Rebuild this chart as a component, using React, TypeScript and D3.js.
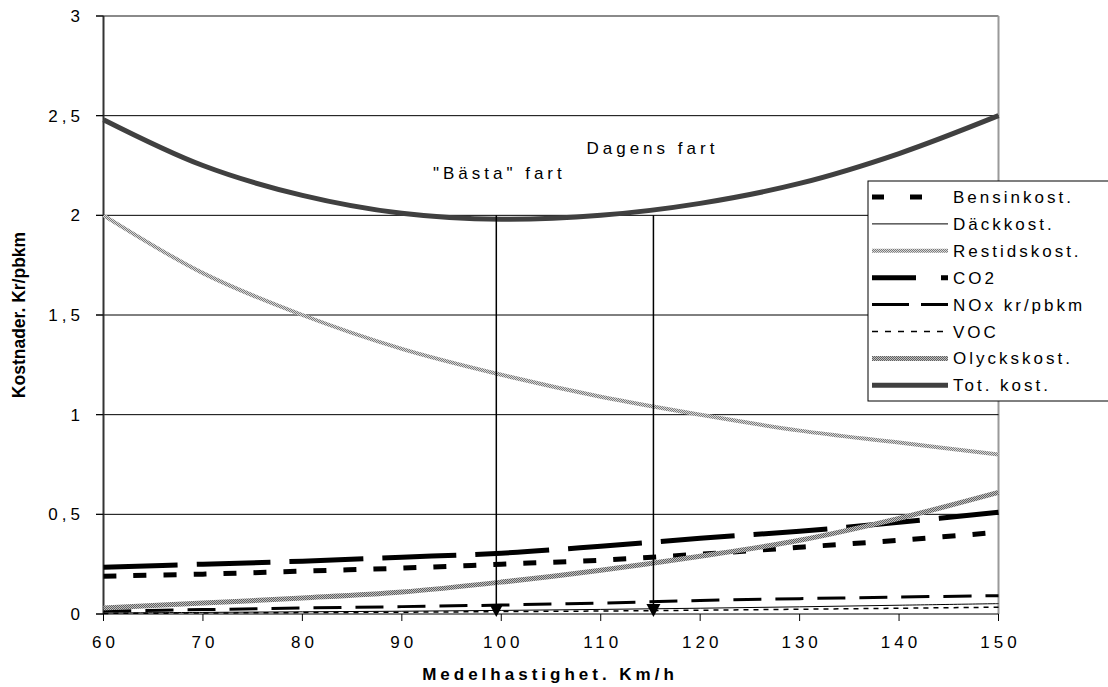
import React from "react";
import * as d3 from "d3";

const speeds = [60, 70, 80, 90, 100, 110, 120, 130, 140, 150];
const bensinkost = [0.19, 0.2, 0.215, 0.23, 0.25, 0.27, 0.3, 0.335, 0.37, 0.41];
const dackkost = [0.005, 0.008, 0.011, 0.014, 0.018, 0.023, 0.029, 0.036, 0.044, 0.052];
const restidskost = [2.0, 1.71, 1.5, 1.33, 1.2, 1.09, 1.0, 0.92, 0.86, 0.8];
const co2 = [0.235, 0.25, 0.265, 0.285, 0.305, 0.34, 0.38, 0.415, 0.46, 0.51];
const nox = [0.015, 0.022, 0.03, 0.037, 0.045, 0.055, 0.068, 0.077, 0.085, 0.092];
const voc = [0.003, 0.005, 0.007, 0.009, 0.012, 0.015, 0.019, 0.024, 0.029, 0.034];
const olyckskost = [0.03, 0.055, 0.08, 0.11, 0.16, 0.22, 0.29, 0.37, 0.48, 0.61];
const totKost = [2.48, 2.25, 2.1, 2.01, 1.98, 2.0, 2.06, 2.16, 2.31, 2.5];

const yTicks = [0, 0.5, 1, 1.5, 2, 2.5, 3];
const yTickLabels = ["0", "0,5", "1", "1,5", "2", "2,5", "3"];
const xTicks = [60, 70, 80, 90, 100, 110, 120, 130, 140, 150];

const arrowSpeeds = [99.5, 115.3];
const arrowTop = 2.0;
const arrowLabels = ['"Bästa" fart', "Dagens fart"];

const FONT = "Arial, 'Liberation Sans', Helvetica, sans-serif";

type SeriesStyle = {
  name: string;
  values: number[];
  stroke: string;
  width: number;
  dash?: string;
  legendDash?: string;
};

const series: SeriesStyle[] = [
  { name: "Bensinkost.", values: bensinkost, stroke: "#000", width: 5, dash: "13,17", legendDash: "12,26" },
  { name: "Däckkost.", values: dackkost, stroke: "#000", width: 1 },
  { name: "Restidskost.", values: restidskost, stroke: "url(#patLight)", width: 4 },
  { name: "CO2", values: co2, stroke: "#000", width: 5, dash: "74,19", legendDash: "44,25" },
  { name: "NOx kr/pbkm", values: nox, stroke: "#000", width: 3, dash: "28,14", legendDash: "37,12" },
  { name: "VOC", values: voc, stroke: "#000", width: 1.5, dash: "5,5", legendDash: "6,7" },
  { name: "Olyckskost.", values: olyckskost, stroke: "url(#patDark)", width: 5 },
  { name: "Tot. kost.", values: totKost, stroke: "#404040", width: 5 },
];

export default function App() {
  const W = 1108;
  const H = 687;
  const x = d3.scaleLinear().domain([60, 150]).range([103.5, 998.5]);
  const y = d3.scaleLinear().domain([0, 3]).range([614, 16]);

  const line = (vals: number[]) =>
    d3
      .line<number>()
      .x((_, i) => x(speeds[i]))
      .y((v) => y(v))
      .curve(d3.curveCatmullRom.alpha(0.5))(vals) || "";

  const legX = 868;
  const legY = 181;
  const rowH = 26.9;

  return (
    <svg
      width={W}
      height={H}
      style={{ position: "absolute", left: 0, top: 0, background: "#fff" }}
      fontFamily={FONT}
    >
      <defs>
        <pattern id="patLight" width="2" height="2" patternUnits="userSpaceOnUse">
          <rect width="2" height="2" fill="#d8d8d8" />
          <rect width="1" height="1" fill="#7a7a7a" />
          <rect x="1" y="1" width="1" height="1" fill="#7a7a7a" />
        </pattern>
        <pattern id="patDark" width="2" height="2" patternUnits="userSpaceOnUse">
          <rect width="2" height="2" fill="#c0c0c0" />
          <rect width="1" height="1" fill="#606060" />
          <rect x="1" y="1" width="1" height="1" fill="#606060" />
        </pattern>
      </defs>
      <rect width={W} height={H} fill="#fff" />

      {/* plot border top/right */}
      <line x1={96} x2={x(150)} y1={y(3)} y2={y(3)} stroke="#8a8a8a" strokeWidth={2} />
      <line x1={x(150)} x2={x(150)} y1={y(3)} y2={y(0)} stroke="#9a9a9a" strokeWidth={2} />

      {/* gridlines */}
      {yTicks.filter((t) => t > 0 && t < 3).map((t) => (
        <line key={t} x1={96} x2={x(150)} y1={y(t)} y2={y(t)} stroke="#000" strokeWidth={1} />
      ))}

      {/* x axis */}
      <line x1={96} x2={x(150)} y1={y(0)} y2={y(0)} stroke="#000" strokeWidth={1} />
      {xTicks.map((t) => (
        <line key={t} x1={x(t)} x2={x(t)} y1={y(0)} y2={y(0) + 7} stroke="#000" strokeWidth={1} />
      ))}
      {xTicks.map((t) => (
        <text
          key={t}
          x={x(t) + 2}
          y={648}
          textAnchor="middle"
          fontSize={17}
          letterSpacing={4}
          fill="#000"
        >
          {String(t)}
        </text>
      ))}

      {/* y axis */}
      <line x1={x(60)} x2={x(60)} y1={y(3)} y2={y(0)} stroke="#333" strokeWidth={2} />
      {yTicks.map((t, i) => (
        <g key={t}>
          <line x1={96} x2={x(60)} y1={y(t)} y2={y(t)} stroke="#000" strokeWidth={1} />
          <text
            x={84}
            y={y(t) + 6}
            textAnchor="end"
            fontSize={17}
            letterSpacing={4}
            fill="#000"
          >
            {yTickLabels[i]}
          </text>
        </g>
      ))}

      {/* series */}
      {series.map((s) => (
        <path
          key={s.name}
          d={line(s.values)}
          fill="none"
          stroke={s.stroke}
          strokeWidth={s.width}
          strokeDasharray={s.dash}
          strokeLinejoin="round"
        />
      ))}

      {/* arrows */}
      {arrowSpeeds.map((sp, i) => (
        <g key={sp}>
          <line x1={x(sp)} x2={x(sp)} y1={y(arrowTop)} y2={y(0) - 8} stroke="#000" strokeWidth={1.5} />
          <path
            d={`M${x(sp) - 7},${y(0) - 10} L${x(sp) + 7},${y(0) - 10} L${x(sp)},${y(0) + 3} Z`}
            fill="#000"
          />
          <text
            x={x(sp) + (i === 0 ? 3 : -1)}
            y={i === 0 ? 179 : 154}
            textAnchor="middle"
            fontSize={17}
            letterSpacing={4}
            fill="#000"
          >
            {arrowLabels[i]}
          </text>
        </g>
      ))}

      {/* axis titles */}
      <text
        x={550}
        y={680}
        textAnchor="middle"
        fontSize={17}
        fontWeight="bold"
        letterSpacing={4}
        fill="#000"
      >
        Medelhastighet. Km/h
      </text>
      <text
        transform={`translate(25,315) rotate(-90)`}
        textAnchor="middle"
        fontSize={17.5}
        fontWeight="bold"
        fill="#000"
      >
        Kostnader. Kr/pbkm
      </text>

      {/* legend */}
      <rect x={legX} y={legY} width={300} height={220} fill="#fff" stroke="#000" strokeWidth={1} />
      {series.map((s, i) => {
        const cy = legY + 16 + i * rowH;
        return (
          <g key={s.name}>
            <line
              x1={872}
              x2={948}
              y1={cy}
              y2={cy}
              stroke={s.stroke}
              strokeWidth={s.width}
              strokeDasharray={s.legendDash}
            />
            <text x={953} y={cy + 6} fontSize={17} letterSpacing={3} fill="#000">
              {s.name}
            </text>
          </g>
        );
      })}
    </svg>
  );
}
